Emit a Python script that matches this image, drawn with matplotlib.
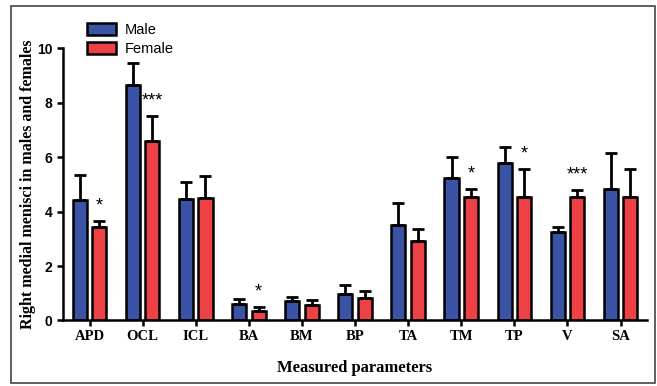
import matplotlib
matplotlib.use('Agg')
import matplotlib.pyplot as plt
from matplotlib.patches import Rectangle, Patch
import numpy as np

# data
params = ['APD', 'OCL', 'ICL', 'BA', 'BM', 'BP', 'TA', 'TM', 'TP', 'V', 'SA']
male = [4.42, 8.65, 4.45, 0.62, 0.72, 0.98, 3.5, 5.22, 5.8, 3.25, 4.82]
male_err = [0.93, 0.8, 0.65, 0.18, 0.13, 0.34, 0.82, 0.78, 0.59, 0.2, 1.35]
female = [3.42, 6.6, 4.5, 0.35, 0.58, 0.82, 2.92, 4.55, 4.55, 4.55, 4.55]
female_err = [0.23, 0.9, 0.8, 0.15, 0.17, 0.28, 0.46, 0.27, 1.01, 0.25, 1.01]
stars = ['*', '***', '', '*', '', '', '', '*', '*', '***', '']

blue = '#3A53A4'
red = '#EE4145'

fig = plt.figure(figsize=(6.57, 3.86), dpi=100)
ax = fig.add_axes([0.0959, 0.1697, 0.889, 0.705])

x = np.arange(len(params))
w = 0.265
off = 0.183
ekw = dict(elinewidth=2, capsize=4, capthick=2, ecolor='black')
ax.bar(x - off, male, w, color=blue, edgecolor='black', linewidth=1.8,
       yerr=[np.zeros(len(male)), male_err], error_kw=ekw, zorder=2)
ax.bar(x + off, female, w, color=red, edgecolor='black', linewidth=1.8,
       yerr=[np.zeros(len(female)), female_err], error_kw=ekw, zorder=2)

for i, s in enumerate(stars):
    if s:
        ax.annotate(s, (x[i] + off, female[i] + female_err[i]), xytext=(0, 11),
                    textcoords='offset points', ha='center', va='center',
                    fontsize=13, family='Liberation Sans')

ax.set_xlim(-0.5, 10.5)
ax.set_ylim(0, 10)
ax.set_xticks(x)
ax.set_xticklabels(params, family='Liberation Serif', fontweight='bold', fontsize=10.5)
ax.set_yticks([0, 2, 4, 6, 8, 10])
ax.set_yticklabels(['0', '2', '4', '6', '8', '10'], family='Liberation Sans',
                   fontweight='bold', fontsize=10)
ax.spines['top'].set_visible(False)
ax.spines['right'].set_visible(False)
ax.spines['left'].set_linewidth(1.8)
ax.spines['bottom'].set_linewidth(1.8)
ax.tick_params(axis='both', width=1.8, length=4, direction='out')
ax.tick_params(axis='x', pad=3)

ax.set_ylabel('Right medial menisci in males and females', family='Liberation Serif',
              fontweight='bold', fontsize=11.5, labelpad=0)
ax.yaxis.set_label_coords(-0.047, 0.5)
ax.set_xlabel('Measured parameters', family='Liberation Serif', fontweight='bold',
              fontsize=12, labelpad=12)

handles = [Patch(facecolor=blue, edgecolor='black', linewidth=1.8),
           Patch(facecolor=red, edgecolor='black', linewidth=1.8)]
fig.legend(handles, ['Male', 'Female'], loc='upper left', bbox_to_anchor=(0.112, 0.975),
           frameon=False, prop={'family': 'Liberation Sans', 'size': 10.5},
           handlelength=2.0, handleheight=0.9, handletextpad=0.6, labelspacing=0.35)

# outer frame
fig.patches.append(Rectangle((0.017, 0.008), 0.98, 0.977, transform=fig.transFigure,
                             fill=False, edgecolor='#444444', linewidth=1.2))

plt.savefig('out.png', dpi=100)
